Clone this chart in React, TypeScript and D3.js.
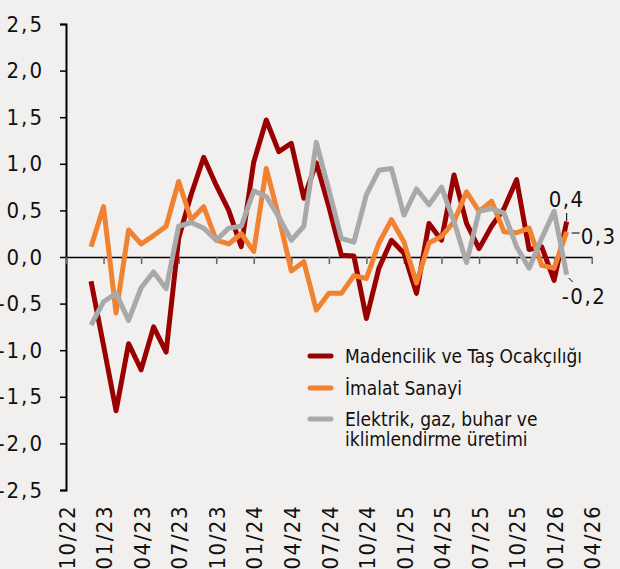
import React, { useEffect, useRef } from 'react';
import * as d3 from 'd3';

// monthly series, 12/22 .. 02/26
const madencilik = [
  -0.26, -0.95, -1.65, -0.93, -1.21, -0.75, -1.02, 0.2, 0.67, 1.07,
  0.77, 0.5, 0.11, 1.02, 1.47, 1.13, 1.22, 0.63, 1.01, 0.54,
  0.02, 0.01, -0.66, -0.12, 0.18, 0.04, -0.39, 0.36, 0.18, 0.88,
  0.36, 0.09, 0.33, 0.52, 0.83, 0.08, 0.11, -0.25, 0.38,
];
const imalat = [
  0.11, 0.54, -0.6, 0.29, 0.14, 0.23, 0.33, 0.81, 0.4, 0.54,
  0.18, 0.14, 0.25, 0.06, 0.95, 0.43, -0.15, -0.05, -0.57, -0.39,
  -0.39, -0.2, -0.23, 0.15, 0.4, 0.16, -0.28, 0.15, 0.22, 0.38,
  0.7, 0.49, 0.6, 0.27, 0.26, 0.31, -0.09, -0.12, 0.27,
];
const elektrik = [
  -0.73, -0.48, -0.39, -0.68, -0.33, -0.16, -0.34, 0.33, 0.37, 0.31,
  0.18, 0.31, 0.33, 0.71, 0.65, 0.43, 0.18, 0.33, 1.23, 0.72,
  0.2, 0.16, 0.67, 0.93, 0.95, 0.45, 0.73, 0.56, 0.75, 0.38,
  -0.06, 0.49, 0.52, 0.47, 0.11, -0.12, 0.2, 0.49, -0.19,
];

const xTickLabels = [
  '10/22', '01/23', '04/23', '07/23', '10/23', '01/24', '04/24', '07/24',
  '10/24', '01/25', '04/25', '07/25', '10/25', '01/26', '04/26',
];
const yTicks = [-2.5, -2, -1.5, -1, -0.5, 0, 0.5, 1, 1.5, 2, 2.5];

const seriesNames = ['Madencilik ve Taş Ocakçılığı', 'İmalat Sanayi', 'Elektrik, gaz, buhar ve|iklimlendirme üretimi'];
const endLabels = ['0,4', '0,3', '-0,2'];

const colors = ['#9a0000', '#f08232', '#a9a9a9'];
const FONT = '"DejaVu Sans Condensed", "DejaVu Sans", sans-serif';

const App: React.FC = () => {
  const ref = useRef<SVGSVGElement>(null);

  useEffect(() => {
    const svg = d3.select(ref.current);
    svg.selectAll('*').remove();

    const W = 620, H = 569;
    // all months on the axis, 10/22 .. 04/26
    const months = d3.timeMonth.range(new Date(2022, 9, 1), new Date(2026, 4, 1));
    const fmt = d3.timeFormat('%m/%y');
    const monthKeys = months.map(fmt);
    const dataKeys = monthKeys.slice(2, 2 + madencilik.length);

    const x = d3.scalePoint<string>().domain(monthKeys).range([66, 591.7]);
    const y = d3.scaleLinear().domain([-2.5, 2.5]).range([490, 24]);

    svg.append('rect').attr('width', W).attr('height', H).attr('fill', '#f2f0ef');

    // y axis
    const yAxis = svg
      .append('g')
      .attr('transform', 'translate(66,0)')
      .call(
        d3.axisLeft(y)
          .tickValues(yTicks)
          .tickSize(6)
          .tickSizeOuter(6)
          .tickFormat(d => d3.format('.1f')(d as number).replace('.', ',').replace('−', '-'))
      );
    yAxis.select('.domain').attr('stroke', '#000').attr('stroke-width', 2);
    yAxis.selectAll('.tick line').attr('stroke', '#000').attr('stroke-width', 1.5);
    yAxis
      .selectAll('.tick text')
      .attr('x', -22)
      .attr('fill', '#111')
      .attr('font-family', FONT)
      .attr('font-size', 22)
      .attr('letter-spacing', 2);

    // x axis on the zero line
    const xAxis = svg
      .append('g')
      .attr('transform', `translate(0,${y(0)})`)
      .call(
        d3.axisBottom(x)
          .tickValues(monthKeys.filter((_, i) => i % 3 === 0))
          .tickSize(7)
          .tickSizeOuter(0)
          .tickFormat(() => '')
      );
    xAxis.select('.domain').attr('stroke', '#000').attr('stroke-width', 1.5);
    xAxis.selectAll('.tick line').attr('stroke', '#666').attr('stroke-width', 1.5);

    svg
      .append('g')
      .selectAll('text')
      .data(xTickLabels)
      .enter()
      .append('text')
      .attr('transform', (d, i) => `translate(${x(monthKeys[i * 3])! + 1},505) rotate(-90)`)
      .attr('text-anchor', 'end')
      .attr('dy', '0.35em')
      .attr('fill', '#111')
      .attr('font-family', FONT)
      .attr('font-size', 22)
      .attr('letter-spacing', 1.5)
      .text(d => d);

    // lines
    const line = d3
      .line<number>()
      .x((_, i) => x(dataKeys[i])!)
      .y(d => y(d));

    [madencilik, imalat, elektrik].forEach((s, k) => {
      svg
        .append('path')
        .datum(s)
        .attr('d', line)
        .attr('fill', 'none')
        .attr('stroke', colors[k])
        .attr('stroke-width', 5)
        .attr('stroke-linejoin', 'round');
    });

    // end labels
    const lastKey = dataKeys[dataKeys.length - 1];
    const lx = x(lastKey)!;
    const lab = svg.append('g').attr('font-family', FONT).attr('font-size', 22).attr('fill', '#111').attr('letter-spacing', 1.5);
    lab.append('line').attr('x1', lx).attr('x2', lx).attr('y1', 213).attr('y2', 221).attr('stroke', '#000').attr('stroke-width', 1);
    lab.append('text').attr('x', lx).attr('y', 207).attr('text-anchor', 'middle').text(endLabels[0]);
    lab.append('line').attr('x1', lx + 5).attr('x2', lx + 13).attr('y1', 233).attr('y2', 233).attr('stroke', '#000').attr('stroke-width', 1);
    lab.append('text').attr('x', lx + 14).attr('y', 236).attr('dy', '0.35em').text(endLabels[1]);
    lab.append('line').attr('x1', lx + 2).attr('x2', lx + 6).attr('y1', 278).attr('y2', 282).attr('stroke', '#000').attr('stroke-width', 1);
    lab.append('text').attr('x', lx - 5).attr('y', 296).attr('dy', '0.35em').text(endLabels[2]);

    // legend
    const legY = [356, 388, 419];
    const leg = svg.append('g').attr('font-family', FONT).attr('font-size', 19).attr('fill', '#111');
    seriesNames.forEach((name, k) => {
      leg.append('line')
        .attr('x1', 310).attr('x2', 331)
        .attr('y1', legY[k]).attr('y2', legY[k])
        .attr('stroke', colors[k]).attr('stroke-width', 5).attr('stroke-linecap', 'round');
      const t = leg.append('text').attr('x', 345).attr('y', legY[k]);
      name.split('|').forEach((part, j) => {
        t.append('tspan').attr('x', 345).attr('dy', j === 0 ? '0.35em' : '1.08em').text(part);
      });
    });
  }, []);

  return (
    <svg ref={ref} width={620} height={569} style={{ position: 'absolute', left: 0, top: 0 }} />
  );
};

export default App;
